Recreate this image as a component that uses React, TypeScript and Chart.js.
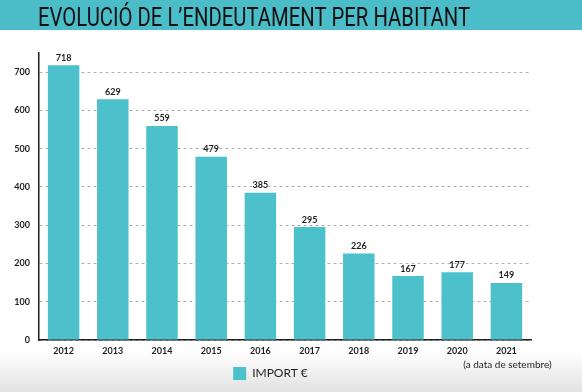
import React, { useEffect, useRef } from "react";
import { Chart, registerables } from "chart.js";

Chart.register(...registerables);

const TITLE = "EVOLUCIÓ DE L’ENDEUTAMENT PER HABITANT";
const YEARS = ["2012", "2013", "2014", "2015", "2016", "2017", "2018", "2019", "2020", "2021"];
const VALUES = [718, 629, 559, 479, 385, 295, 226, 167, 177, 149];
const SERIES_LABEL = "IMPORT €";
const LAST_NOTE = "(a data de setembre)";
const Y_MAX = 750;
const Y_STEP = 100;

const TEAL = "#4dc1cb";
const BAND = "#4bbdc8";
const INK = "#1e1e1e";

const decorPlugin = {
  id: "decor",
  afterLayout(chart: any) {
    const lg = chart.legend;
    if (lg) {
      lg.left += 5;
      lg.right += 5;
      lg.top -= 2;
      lg.bottom -= 2;
    }
  },
  beforeDraw(chart: any) {
    const { ctx, width, height } = chart;
    ctx.save();
    const g = ctx.createLinearGradient(0, 352, 0, height);
    g.addColorStop(0, "#ffffff");
    g.addColorStop(1, "#e2e2e2");
    ctx.fillStyle = "#ffffff";
    ctx.fillRect(0, 0, width, height);
    ctx.fillStyle = g;
    ctx.fillRect(0, 352, width, height - 352);
    ctx.fillStyle = BAND;
    ctx.fillRect(0, 0, width, 30);
    ctx.restore();
  },
  afterDraw(chart: any) {
    const { ctx } = chart;
    ctx.save();
    ctx.font = "400 26px Roboto";
    ctx.fillStyle = "#111";
    ctx.textBaseline = "alphabetic";
    ctx.textAlign = "center";
    const w = ctx.measureText(TITLE).width;
    const target = 432;
    ctx.translate(254, 26);
    ctx.scale(target / w, 1);
    ctx.fillText(TITLE, 0, 0);
    ctx.restore();

    // note under last category
    const xs = chart.scales.x;
    ctx.save();
    ctx.font = "400 10px Lato";
    ctx.fillStyle = INK;
    ctx.textAlign = "center";
    ctx.textBaseline = "middle";
    ctx.fillText(LAST_NOTE, xs.getPixelForValue(YEARS.length - 1) + 1, 365);
    ctx.restore();
  },
  afterDatasetsDraw(chart: any) {
    const { ctx } = chart;
    const meta = chart.getDatasetMeta(0);
    ctx.save();
    ctx.font = "700 9px Lato";
    ctx.fillStyle = INK;
    ctx.textAlign = "center";
    ctx.textBaseline = "bottom";
    meta.data.forEach((bar: any, i: number) => {
      ctx.fillText(String(VALUES[i]), bar.x, bar.y - 3);
    });
    ctx.restore();
  },
};

export default function App() {
  const ref = useRef<HTMLCanvasElement>(null);
  useEffect(() => {
    if (!ref.current) return;
    const chart = new Chart(ref.current, {
      type: "bar",
      data: {
        labels: YEARS,
        datasets: [
          {
            label: SERIES_LABEL,
            data: VALUES,
            backgroundColor: TEAL,
            borderWidth: 0,
            barPercentage: 0.64,
            categoryPercentage: 1,
          },
        ],
      },
      plugins: [decorPlugin],
      options: {
        responsive: false,
        animation: false,
        layout: { padding: { top: 53, right: 51, left: 0, bottom: 0 } },
        plugins: {
          tooltip: { enabled: false },
          title: { display: false },
          legend: {
            display: true,
            position: "bottom",
            labels: {
              boxWidth: 13,
              boxHeight: 13,
              padding: 10,
              color: INK,
              font: { family: "Lato", size: 12, weight: "400" },
            },
          },
        },
        scales: {
          x: {
            grid: { display: false, drawTicks: false },
            border: { display: true, color: INK, width: 1.5 },
            ticks: {
              color: INK,
              padding: 6,
              font: { family: "Lato", size: 9, weight: "700" },
              maxRotation: 0,
            },
            afterFit(scale: any) {
              scale.height = 19;
            },
          },
          y: {
            min: 0,
            max: Y_MAX,
            grid: { color: "#b0b0b0", drawTicks: false, lineWidth: 1 },
            border: { display: true, color: INK, width: 1.5, dash: [3, 3] },
            ticks: {
              stepSize: Y_STEP,
              color: INK,
              padding: 9,
              font: { family: "Lato", size: 9, weight: "700" },
            },
            afterBuildTicks(axis: any) {
              axis.ticks = axis.ticks.filter((t: any) => t.value % Y_STEP === 0);
            },
            afterFit(scale: any) {
              scale.width = 39;
            },
          },
        },
      },
    });
    return () => chart.destroy();
  }, []);
  return (
    <div style={{ position: "fixed", left: 0, top: 0, width: 582, height: 392 }}>
      <canvas ref={ref} width={582} height={392} />
    </div>
  );
}
